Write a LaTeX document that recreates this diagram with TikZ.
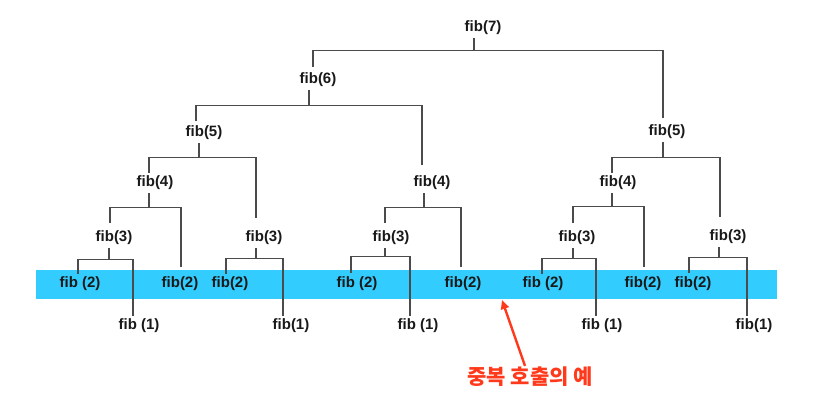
\documentclass[tikz,border=0pt]{standalone}
\usepackage{fontspec}
\setmainfont{Liberation Sans}
\newfontfamily\krfont{Noto Sans CJK KR}
\usetikzlibrary{arrows.meta}
\definecolor{bandblue}{RGB}{51,204,255}
\definecolor{callred}{RGB}{255,58,28}
\definecolor{edgegray}{RGB}{75,75,75}
\tikzset{
  fibnode/.style={font=\fontsize{15}{17}\selectfont\bfseries, text=black!90, inner xsep=1pt, inner ysep=3pt},
  edge/.style={draw=edgegray, line width=1.2pt},
}
\newcommand\fibedge[6]{\draw[edge,shorten >=#6] ([xshift=#2]#1.south) -- ++(0,#3) -| ([xshift=#5]#4.north);}
\begin{document}
\begin{tikzpicture}[x=1pt,y=-1pt]
\useasboundingbox (0,0) rectangle (814,400);
\fill[bandblue] (36,270) rectangle (777,299);
% nodes
\node[fibnode] (f7) at (483,28) {fib(7)};
\node[fibnode] (f6) at (318,80) {fib(6)};
\node[fibnode] (f5l) at (204,133) {fib(5)};
\node[fibnode] (f5r) at (667,132) {fib(5)};
\node[fibnode] (f4l) at (155,183) {fib(4)};
\node[fibnode] (f4m) at (432,183) {fib(4)};
\node[fibnode] (f4r) at (618,183) {fib(4)};
\node[fibnode] (f3a) at (114,238) {fib(3)};
\node[fibnode] (f3b) at (264,238) {fib(3)};
\node[fibnode] (f3c) at (391,238) {fib(3)};
\node[fibnode] (f3d) at (577,238) {fib(3)};
\node[fibnode] (f3e) at (728,237) {fib(3)};
\node[fibnode] (f2a) at (80,284) {fib (2)};
\node[fibnode] (f2b) at (180,284) {fib(2)};
\node[fibnode] (f2c) at (230,284) {fib(2)};
\node[fibnode] (f2d) at (357,284) {fib (2)};
\node[fibnode] (f2e) at (463,284) {fib(2)};
\node[fibnode] (f2f) at (543,284) {fib (2)};
\node[fibnode] (f2g) at (643,284) {fib(2)};
\node[fibnode] (f2h) at (693,284) {fib(2)};
\node[fibnode] (f1a) at (139,326) {fib (1)};
\node[fibnode] (f1b) at (291,326) {fib(1)};
\node[fibnode] (f1c) at (418,326) {fib (1)};
\node[fibnode] (f1d) at (602,326) {fib (1)};
\node[fibnode] (f1e) at (754,326) {fib(1)};
% edges
\fibedge{f7}{-9pt}{12}{f6}{-5pt}{3pt}
\fibedge{f7}{-9pt}{12}{f5r}{-4pt}{4pt}
\fibedge{f6}{-9pt}{15}{f5l}{-8pt}{2pt}
\fibedge{f6}{-9pt}{15}{f4m}{-10pt}{8pt}
\fibedge{f5l}{-5pt}{14}{f4l}{-6pt}{0pt}
\fibedge{f5l}{-5pt}{14}{f3b}{-8pt}{10pt}
\fibedge{f4l}{-6pt}{14}{f3a}{-4pt}{5pt}
\fibedge{f4l}{-6pt}{14}{f2b}{1pt}{7pt}
\fibedge{f3a}{-5pt}{11}{f2a}{-2pt}{0pt}
\fibedge{f3a}{-5pt}{11}{f1a}{-6pt}{0pt}
\fibedge{f3b}{-8pt}{10}{f2c}{-4pt}{0pt}
\fibedge{f3b}{-8pt}{10}{f1b}{-8pt}{0pt}
\fibedge{f4m}{-8pt}{14}{f3c}{-6pt}{5pt}
\fibedge{f4m}{-8pt}{14}{f2e}{-2pt}{7pt}
\fibedge{f3c}{-6pt}{8}{f2d}{-6pt}{1pt}
\fibedge{f3c}{-6pt}{8}{f1c}{-8pt}{0pt}
\fibedge{f5r}{-4pt}{15}{f4r}{-6pt}{0pt}
\fibedge{f5r}{-4pt}{15}{f3e}{-8pt}{10pt}
\fibedge{f4r}{-6pt}{13}{f3d}{-4pt}{5pt}
\fibedge{f4r}{-6pt}{13}{f2g}{1pt}{7pt}
\fibedge{f3d}{-4pt}{10}{f2f}{-1pt}{0pt}
\fibedge{f3d}{-4pt}{10}{f1d}{-6pt}{0pt}
\fibedge{f3e}{-9pt}{10}{f2h}{-4pt}{1pt}
\fibedge{f3e}{-9pt}{10}{f1e}{-7pt}{0pt}
% annotation
\node[font=\krfont\fontsize{21}{23}\selectfont\bfseries, text=callred, inner sep=0pt] (note) at (530,377) {중복 호출의 예};
\coordinate (tip) at (502,300);
\draw[callred, line width=2.4pt, -{Triangle[length=9pt,width=8pt]}] ([xshift=-5pt,yshift=1pt]note.north) -- (tip);
\end{tikzpicture}
\end{document}
